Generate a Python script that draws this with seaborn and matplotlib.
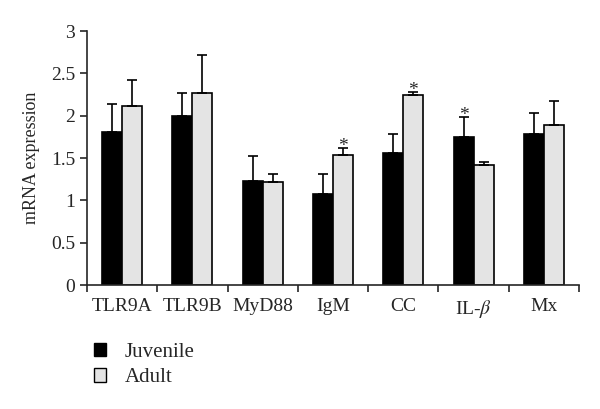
import pandas as pd
import matplotlib
matplotlib.use("Agg")
import matplotlib.pyplot as plt
import seaborn as sns
from matplotlib.patches import Patch

genes = ["TLR9A", "TLR9B", "MyD88", "IgM", "CC", "IL-$\\beta$", "Mx"]
juvenile = [1.81, 2.00, 1.23, 1.08, 1.56, 1.75, 1.79]
juvenile_err = [0.33, 0.27, 0.30, 0.23, 0.23, 0.23, 0.24]
adult = [2.11, 2.27, 1.22, 1.54, 2.24, 1.42, 1.89]
adult_err = [0.31, 0.45, 0.09, 0.08, 0.04, 0.03, 0.28]
# significance marks: (gene index, group) -> star
stars = [(3, "Adult"), (4, "Adult"), (5, "Juvenile")]

sns.set_style("ticks")
plt.rcParams['font.family'] = ['Liberation Serif', 'DejaVu Serif']
plt.rcParams['mathtext.fontset'] = 'stix'

df = pd.DataFrame({
    "gene": genes * 2,
    "group": ["Juvenile"] * len(genes) + ["Adult"] * len(genes),
    "value": juvenile + adult,
    "err": juvenile_err + adult_err,
})

fig = plt.figure(figsize=(6, 4.09), dpi=100)
ax = fig.add_axes([0.145, 0.303, 0.82, 0.621])

palette = {"Juvenile": "black", "Adult": "#e4e4e4"}
sns.barplot(data=df, x="gene", y="value", hue="group", palette=palette,
            width=0.57, edgecolor="black", linewidth=1.2, errorbar=None,
            legend=False, ax=ax)

bars = [p for p in ax.patches if p.get_height() > 0]
for i, grp in enumerate(["Juvenile", "Adult"]):
    sub = df[df["group"] == grp]
    grp_bars = bars[i * len(genes):(i + 1) * len(genes)]
    xs = [b.get_x() + b.get_width() / 2 for b in grp_bars]
    ax.errorbar(xs, sub["value"], yerr=[[0] * len(genes), sub["err"]],
                fmt="none", ecolor="black", elinewidth=1.2, capsize=3.5,
                capthick=1.2, zorder=3)
    for gi, g in stars:
        if g == grp:
            top = sub["value"].iloc[gi] + sub["err"].iloc[gi]
            ax.text(xs[gi], top - 0.08, "*", ha="center", va="bottom",
                    fontsize=14)

ax.set_ylim(0, 3)
ax.set_yticks([0, 0.5, 1, 1.5, 2, 2.5, 3])
ax.set_yticklabels(["0", "0.5", "1", "1.5", "2", "2.5", "3"])
ax.set_xlim(-0.5, len(genes) - 0.5)
ax.set_xticks([i - 0.5 for i in range(len(genes) + 1)], minor=False)
ax.set_xticklabels([])
ax.set_xticks(range(len(genes)), minor=True)
ax.set_xticklabels(genes, minor=True)
ax.tick_params(axis="x", which="minor", length=0, labelsize=14, pad=9)
ax.tick_params(axis="x", which="major", length=5, width=1.2, direction="out")
ax.tick_params(axis="y", length=5, width=1.2, labelsize=14, direction="out")
ax.set_xlabel("")
ax.set_ylabel("mRNA expression", fontsize=13, labelpad=8)
sns.despine(ax=ax)
for s in ["left", "bottom"]:
    ax.spines[s].set_linewidth(1.2)

handles = [Patch(facecolor="black", edgecolor="black", label="Juvenile"),
           Patch(facecolor="#e4e4e4", edgecolor="black", label="Adult")]
fig.legend(handles=handles, loc="upper left", bbox_to_anchor=(0.125, 0.207),
           frameon=False, fontsize=15, handlelength=0.6, handleheight=0.6,
           handletextpad=0.9, labelspacing=0.3)

fig.savefig("out.png", dpi=100)
